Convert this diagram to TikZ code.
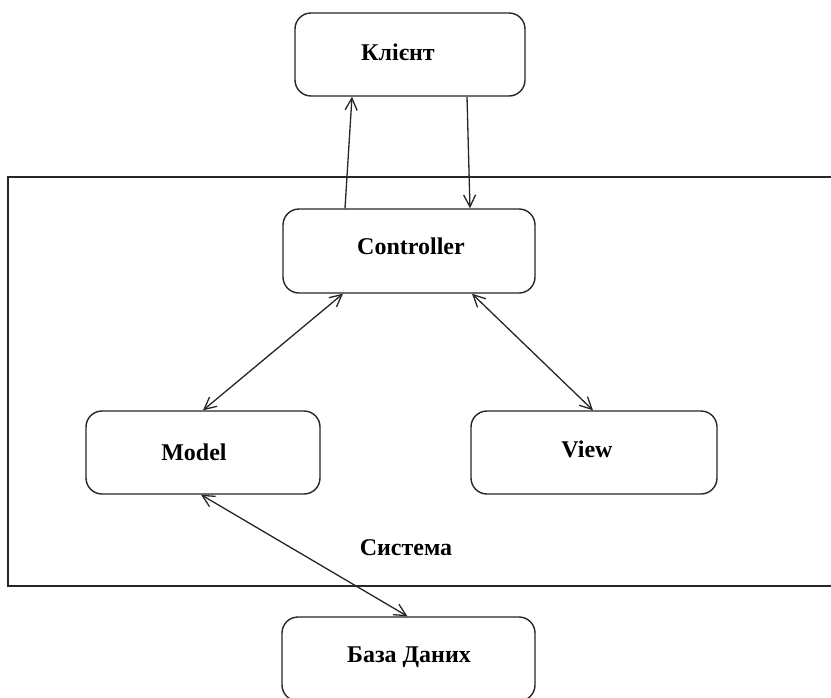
\documentclass[tikz,border=0pt]{standalone}
\usepackage{fontspec}
\setmainfont{Liberation Serif}
\usetikzlibrary{arrows.meta}
\begin{document}
\begin{tikzpicture}[x=1pt,y=-1pt,
  box/.style={draw=black!85,line width=1.4pt,rounded corners=16pt,fill=white,inner sep=0pt},
  lbl/.style={font=\fontsize{24}{28}\selectfont\bfseries},
  conn/.style={draw=black!85,line width=1.3pt,
    {Straight Barb[length=12pt,width=12pt,line width=1.3pt]}-{Straight Barb[length=12pt,width=12pt,line width=1.3pt]}},
  oneway/.style={draw=black!85,line width=1.3pt,
    -{Straight Barb[length=12pt,width=12pt,line width=1.3pt]}}]
\clip (0,0) rectangle (831,697);
\useasboundingbox (0,0) rectangle (831,697);
% system frame
\draw[black!85,line width=1.5pt] (8,177) rectangle (850,586);
\node[lbl] (sys) at (406,548) {Система};
% boxes
\node[box,minimum width=230pt,minimum height=83pt] (client) at (410,54.5) {};
\node[lbl] (clientt) at (398,52) {Клієнт};
\node[box,minimum width=252pt,minimum height=84pt] (ctrl) at (409,251) {};
\node[lbl] (ctrlt) at (411,246) {Controller};
\node[box,minimum width=234pt,minimum height=83pt] (model) at (203,452.5) {};
\node[lbl] (modelt) at (194,452) {Model};
\node[box,minimum width=246pt,minimum height=83pt] (view) at (594,452.5) {};
\node[lbl] (viewt) at (587,449) {View};
\node[box,minimum width=253pt,minimum height=84pt] (db) at (408.5,659) {};
\node[lbl] (dbt) at (409,657) {База Даних};
% connectors
\draw[oneway] ([xshift=-64pt]ctrl.north) -- ([xshift=-58pt]client.south);
\draw[oneway] ([xshift=57pt]client.south) -- ([xshift=61pt]ctrl.north);
\draw[conn] ([xshift=-66pt]ctrl.south) -- (model.north);
\draw[conn] ([xshift=63pt]ctrl.south) -- ([xshift=-1pt]view.north);
\draw[conn] ([xshift=-2pt]model.south) -- ([xshift=-1pt]db.north);
\end{tikzpicture}
\end{document}
